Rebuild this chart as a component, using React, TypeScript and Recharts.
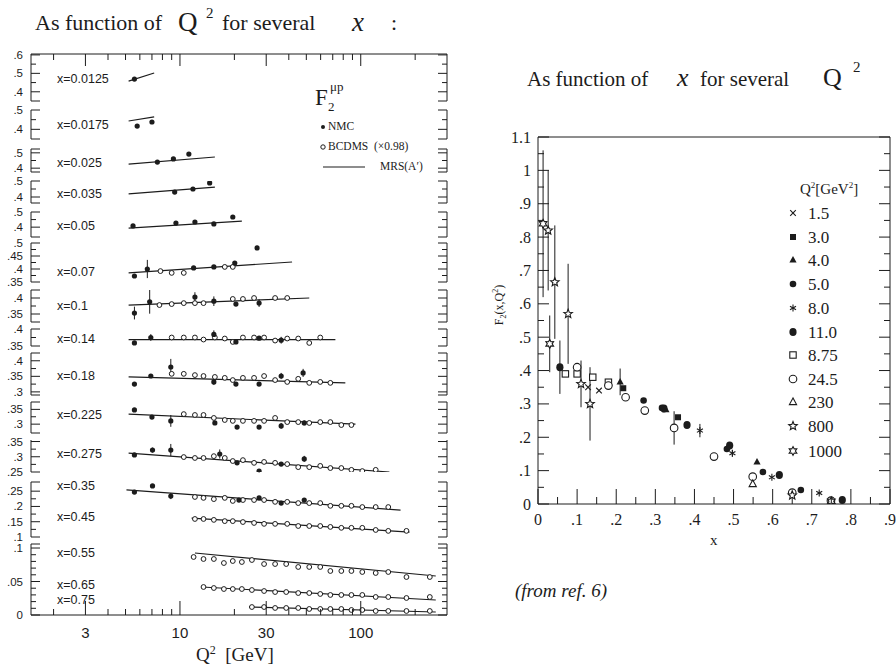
import React from "react";
import { ErrorBar, Scatter, ScatterChart, XAxis, YAxis } from "recharts";

const INK = "#1c1c1c";
const SANS = "'Liberation Sans', Arial, sans-serif";
const SERIF = "'Liberation Serif', 'Times New Roman', serif";

type Pt = number[];

// ---------------- left panel: F2(mu p) against Q2, one strip per x bin ----------------
const Q2_DOMAIN = [1.5, 300];
const Q2_TICKS = [2, 3, 4, 5, 6, 7, 8, 9, 10, 20, 30, 40, 50, 60, 70, 80, 90, 100, 200];
const Q2_LABELS = [3, 10, 30, 100];

// NMC: [Q2, F2, error], BCDMS: [Q2, F2], MRS(A'): two end points
const nmc0125: Pt[] = [[5.6, 0.469, 0.008]];
const mrs0125: Pt[] = [[5.2, 0.458], [7.2, 0.502]];

const nmc0175: Pt[] = [[5.8, 0.417], [7.0, 0.438]];
const mrs0175: Pt[] = [[5.2, 0.443], [7.2, 0.464]];

const nmc025: Pt[] = [[7.5, 0.44], [9.2, 0.46], [11.2, 0.492]];
const mrs025: Pt[] = [[5.2, 0.427], [15.6, 0.473]];

const nmc035: Pt[] = [[9.35, 0.431], [11.8, 0.45], [14.6, 0.488]];
const mrs035: Pt[] = [[5.2, 0.419], [15.6, 0.462]];

const nmc05: Pt[] = [[5.5, 0.408, 0.01], [9.5, 0.427], [12.1, 0.434], [15.4, 0.421], [19.6, 0.467]];
const mrs05: Pt[] = [[5.2, 0.394], [22.0, 0.44]];

const nmc07: Pt[] = [[5.6, 0.373, 0.006], [6.6, 0.4, 0.035], [11.9, 0.404], [15.4, 0.408], [20.1, 0.423, 0.006], [26.7, 0.481, 0.008]];
const bcd07: Pt[] = [[7.8, 0.392], [9.0, 0.385], [10.5, 0.385], [17.7, 0.408], [19.6, 0.408]];
const mrs07: Pt[] = [[5.2, 0.385], [41.7, 0.427]];

const nmc1: Pt[] = [[5.6, 0.353, 0.02], [6.8, 0.388, 0.037], [12.1, 0.403, 0.015], [15.4, 0.39, 0.015], [20.4, 0.381, 0.006], [27.4, 0.384, 0.012]];
const bcd1: Pt[] = [[7.7, 0.378], [9.0, 0.381], [10.5, 0.384], [12.1, 0.384], [13.5, 0.384], [19.6, 0.397], [22.3, 0.397], [25.7, 0.4], [33.6, 0.4], [39.2, 0.4]];
const mrs1: Pt[] = [[5.2, 0.378], [51.9, 0.4]];

const nmc14: Pt[] = [[5.6, 0.359, 0.005], [6.9, 0.375, 0.01], [15.4, 0.384, 0.012], [20.4, 0.362], [27.4, 0.373], [36.3, 0.367, 0.01]];
const bcd14: Pt[] = [[9.0, 0.375], [10.5, 0.375], [12.1, 0.375], [13.5, 0.369], [15.6, 0.375], [17.7, 0.372], [19.6, 0.362], [22.3, 0.375], [25.7, 0.375], [29.2, 0.375], [33.6, 0.366], [39.2, 0.372], [45.1, 0.372], [51.9, 0.359], [59.7, 0.375]];
const mrs14: Pt[] = [[5.2, 0.369], [72.4, 0.369]];

const nmc18: Pt[] = [[5.6, 0.325, 0.006], [6.9, 0.351, 0.006], [8.9, 0.38, 0.026], [15.4, 0.332, 0.01], [20.4, 0.325, 0.005], [27.4, 0.325, 0.005], [36.3, 0.351, 0.01], [48.0, 0.361, 0.013]];
const bcd18: Pt[] = [[9.0, 0.358], [10.5, 0.358], [12.1, 0.354], [13.5, 0.351], [15.6, 0.348], [17.7, 0.345], [19.6, 0.338], [22.3, 0.345], [25.7, 0.345], [29.2, 0.351], [33.6, 0.338], [39.2, 0.332], [45.1, 0.342], [51.9, 0.329], [59.7, 0.332], [67.9, 0.329]];
const mrs18: Pt[] = [[5.2, 0.348], [82.2, 0.329]];

const nmc225: Pt[] = [[5.6, 0.348, 0.006], [7.0, 0.324, 0.006], [8.9, 0.311, 0.02], [15.6, 0.304, 0.006], [20.7, 0.29, 0.005], [27.4, 0.29, 0.005], [36.3, 0.294, 0.01], [48.7, 0.304, 0.008]];
const bcd225: Pt[] = [[10.5, 0.334], [12.1, 0.331], [13.5, 0.331], [15.4, 0.321], [17.7, 0.314], [19.6, 0.311], [22.3, 0.311], [25.7, 0.311], [29.2, 0.311], [33.6, 0.321], [39.2, 0.307], [45.1, 0.307], [51.9, 0.304], [59.7, 0.307], [67.9, 0.307], [78.1, 0.297], [88.8, 0.297]];
const mrs225: Pt[] = [[5.2, 0.334], [93.5, 0.3]];

const nmc275: Pt[] = [[5.6, 0.306, 0.006], [7.05, 0.322, 0.008], [8.9, 0.322, 0.02], [16.6, 0.309, 0.015], [20.7, 0.28, 0.005], [27.4, 0.253, 0.005], [36.3, 0.276, 0.005], [48.7, 0.293, 0.01]];
const bcd275: Pt[] = [[10.5, 0.299], [12.1, 0.296], [13.5, 0.296], [15.4, 0.302], [17.7, 0.296], [19.6, 0.286], [22.3, 0.289], [25.7, 0.28], [29.2, 0.283], [33.6, 0.28], [39.2, 0.276], [45.1, 0.266], [51.9, 0.266], [59.7, 0.27], [67.9, 0.263], [78.1, 0.263], [88.8, 0.257], [102, 0.253], [121, 0.257]];
const mrs275: Pt[] = [[5.2, 0.312], [144, 0.25]];

const nmc35: Pt[] = [[5.6, 0.247, 0.004], [7.05, 0.267, 0.004], [8.9, 0.234, 0.01], [21.2, 0.221, 0.004], [27.4, 0.228, 0.004], [36.3, 0.211, 0.004], [48.7, 0.221, 0.005]];
const bcd35: Pt[] = [[12.1, 0.231], [13.5, 0.228], [15.4, 0.224], [17.7, 0.228], [19.6, 0.218], [22.3, 0.221], [25.7, 0.221], [29.2, 0.221], [33.6, 0.215], [39.2, 0.215], [45.1, 0.211], [51.9, 0.211], [59.7, 0.211], [67.9, 0.202], [78.1, 0.202], [88.8, 0.202], [102, 0.198], [121, 0.198], [142, 0.198]];
const mrs35: Pt[] = [[5.06, 0.254], [166, 0.188]];

const bcd45: Pt[] = [[12.1, 0.159], [13.5, 0.159], [15.4, 0.156], [17.7, 0.152], [19.6, 0.152], [22.3, 0.149], [25.7, 0.146], [29.2, 0.143], [33.6, 0.143], [39.2, 0.143], [45.1, 0.136], [51.9, 0.136], [59.7, 0.136], [67.9, 0.133], [78.1, 0.13], [88.8, 0.13], [102, 0.13], [121, 0.123], [142, 0.12], [179, 0.12]];
const mrs45: Pt[] = [[11.6, 0.162], [186, 0.116]];

const bcd55: Pt[] = [[11.9, 0.0866], [13.5, 0.0836], [15.4, 0.0836], [17.5, 0.0776], [19.6, 0.0806], [22.0, 0.0791], [25.0, 0.0821], [29.2, 0.0761], [33.6, 0.0761], [38.7, 0.0761], [45.1, 0.0717], [51.9, 0.0717], [59.7, 0.0717], [67.9, 0.0657], [78.1, 0.0657], [88.8, 0.0657], [102, 0.0642], [121, 0.0627], [142, 0.0642], [179, 0.0567], [241, 0.0567]];
const mrs55: Pt[] = [[12.1, 0.0926], [260, 0.0582]];

const bcd65: Pt[] = [[13.5, 0.0418], [15.4, 0.0403], [17.5, 0.0388], [19.6, 0.0388], [22.0, 0.0388], [25.0, 0.0373], [29.2, 0.0358], [33.6, 0.0343], [38.7, 0.0343], [45.1, 0.0328], [51.9, 0.0328], [59.7, 0.0314], [67.9, 0.0299], [78.1, 0.0299], [88.8, 0.0299], [102, 0.0299], [121, 0.0269], [142, 0.0269], [179, 0.0254], [241, 0.0269]];
const mrs65: Pt[] = [[13.2, 0.0418], [260, 0.0224]];

const bcd75: Pt[] = [[25.0, 0.0119], [29.2, 0.0119], [33.6, 0.0105], [38.7, 0.0105], [45.1, 0.0105], [51.9, 0.009], [59.7, 0.009], [67.9, 0.009], [78.1, 0.009], [88.8, 0.0075], [102, 0.0075], [121, 0.006], [142, 0.006], [179, 0.006], [241, 0.006]];
const mrs75: Pt[] = [[24.1, 0.012], [260, 0.0045]];

// vertical strips (sub-axes) of the left frame: page px of the bracket, F2 range, ticks
const SEGMENTS = [
  { top: 54, bottom: 101, domain: [0.35, 0.605], ticks: [0.35, 0.4, 0.45, 0.5, 0.55, 0.6], labels: [0.4, 0.5, 0.6] },
  { top: 110, bottom: 139, domain: [0.35, 0.5], ticks: [0.35, 0.4, 0.45, 0.5], labels: [0.4, 0.5] },
  { top: 149, bottom: 172, domain: [0.375, 0.525], ticks: [0.375, 0.4, 0.45, 0.5, 0.525], labels: [0.4, 0.5] },
  { top: 181, bottom: 203, domain: [0.3625, 0.5], ticks: [0.3625, 0.4, 0.45, 0.5], labels: [0.4, 0.5] },
  { top: 212, bottom: 237, domain: [0.335, 0.5], ticks: [0.335, 0.4, 0.45, 0.5], labels: [0.4, 0.5] },
  { top: 243, bottom: 282, domain: [0.35, 0.5], ticks: [0.35, 0.375, 0.4, 0.425, 0.45, 0.475, 0.5], labels: [0.35, 0.4, 0.45, 0.5] },
  { top: 290, bottom: 322, domain: [0.325, 0.425], ticks: [0.325, 0.35, 0.375, 0.4, 0.425], labels: [0.35, 0.4] },
  { top: 329, bottom: 346, domain: [0.35, 0.4], ticks: [0.35, 0.375, 0.4], labels: [0.35, 0.4] },
  { top: 353, bottom: 395, domain: [0.29, 0.425], ticks: [0.29, 0.3, 0.325, 0.35, 0.375, 0.4, 0.425], labels: [0.3, 0.35, 0.4] },
  { top: 402, bottom: 433, domain: [0.27, 0.375], ticks: [0.27, 0.3, 0.325, 0.35, 0.375], labels: [0.3, 0.35] },
  { top: 440, bottom: 472, domain: [0.25, 0.355], ticks: [0.25, 0.275, 0.3, 0.325, 0.35], labels: [0.25, 0.3, 0.35] },
  { top: 482, bottom: 537, domain: [0.1, 0.28], ticks: [0.1, 0.125, 0.15, 0.175, 0.2, 0.225, 0.25, 0.28], labels: [0.1, 0.15, 0.2, 0.25] },
  { top: 544, bottom: 615, domain: [0, 0.106], ticks: [0, 0.01, 0.02, 0.03, 0.04, 0.05, 0.06, 0.07, 0.08, 0.09, 0.1, 0.106], labels: [0, 0.05, 0.1] },
];

const BINS = [
  { name: "x=0.0125", seg: 0, ly: 79, nmc: nmc0125, bcd: [], mrs: mrs0125 },
  { name: "x=0.0175", seg: 1, ly: 125, nmc: nmc0175, bcd: [], mrs: mrs0175 },
  { name: "x=0.025", seg: 2, ly: 163, nmc: nmc025, bcd: [], mrs: mrs025 },
  { name: "x=0.035", seg: 3, ly: 194, nmc: nmc035, bcd: [], mrs: mrs035 },
  { name: "x=0.05", seg: 4, ly: 226, nmc: nmc05, bcd: [], mrs: mrs05 },
  { name: "x=0.07", seg: 5, ly: 272, nmc: nmc07, bcd: bcd07, mrs: mrs07 },
  { name: "x=0.1", seg: 6, ly: 306, nmc: nmc1, bcd: bcd1, mrs: mrs1 },
  { name: "x=0.14", seg: 7, ly: 339, nmc: nmc14, bcd: bcd14, mrs: mrs14 },
  { name: "x=0.18", seg: 8, ly: 376, nmc: nmc18, bcd: bcd18, mrs: mrs18 },
  { name: "x=0.225", seg: 9, ly: 415, nmc: nmc225, bcd: bcd225, mrs: mrs225 },
  { name: "x=0.275", seg: 10, ly: 454, nmc: nmc275, bcd: bcd275, mrs: mrs275 },
  { name: "x=0.35", seg: 11, ly: 486, nmc: nmc35, bcd: bcd35, mrs: mrs35 },
  { name: "x=0.45", seg: 11, ly: 517, nmc: [], bcd: bcd45, mrs: mrs45 },
  { name: "x=0.55", seg: 12, ly: 553, nmc: [], bcd: bcd55, mrs: mrs55 },
  { name: "x=0.65", seg: 12, ly: 585, nmc: [], bcd: bcd65, mrs: mrs65 },
  { name: "x=0.75", seg: 12, ly: 600, nmc: [], bcd: bcd75, mrs: mrs75 },
];

// ---------------- right panel: F2 against x for several Q2 ----------------
const X_TICKS = Array.from({ length: 19 }, (_, i) => +(i * 0.05).toFixed(2));
const F_TICKS = Array.from({ length: 23 }, (_, i) => +(i * 0.05).toFixed(2));

// [x, F2, error]
const q1_5: Pt[] = [[0.128, 0.35], [0.156, 0.34]];
const q3_0: Pt[] = [[0.218, 0.347], [0.358, 0.26]];
const q4_0: Pt[] = [[0.21, 0.366, 0.04], [0.327, 0.283], [0.56, 0.126]];
const q5_0: Pt[] = [[0.27, 0.31], [0.317, 0.288], [0.483, 0.165], [0.575, 0.096], [0.672, 0.042]];
const q8_0: Pt[] = [[0.414, 0.22, 0.02], [0.497, 0.152, 0.01], [0.598, 0.08], [0.719, 0.033]];
const q11_0: Pt[] = [[0.056, 0.41, 0.08], [0.322, 0.286], [0.381, 0.237], [0.49, 0.175], [0.617, 0.087], [0.778, 0.012]];
const q8_75: Pt[] = [[0.07, 0.39], [0.1, 0.39], [0.14, 0.38], [0.18, 0.365]];
const q24_5: Pt[] = [[0.1, 0.41], [0.18, 0.355], [0.224, 0.32], [0.273, 0.28], [0.348, 0.228, 0.05], [0.45, 0.142], [0.549, 0.082], [0.65, 0.034], [0.749, 0.01]];
const q230: Pt[] = [[0.549, 0.06], [0.75, 0.006]];
const q800: Pt[] = [[0.026, 0.82, 0.18], [0.043, 0.665, 0.17], [0.077, 0.57, 0.15], [0.11, 0.36, 0.07], [0.133, 0.3, 0.11], [0.65, 0.026]];
const q1000: Pt[] = [[0.013, 0.84, 0.22], [0.03, 0.48, 0.085], [0.75, 0.008]];

const Q2_SERIES = [
  { label: "1.5", kind: "x", data: q1_5 },
  { label: "3.0", kind: "sq", data: q3_0 },
  { label: "4.0", kind: "tri", data: q4_0 },
  { label: "5.0", kind: "dot", data: q5_0 },
  { label: "8.0", kind: "ast", data: q8_0 },
  { label: "11.0", kind: "dotL", data: q11_0 },
  { label: "8.75", kind: "osq", data: q8_75 },
  { label: "24.5", kind: "ocirc", data: q24_5 },
  { label: "230", kind: "otri", data: q230 },
  { label: "800", kind: "star", data: q800 },
  { label: "1000", kind: "hex", data: q1000 },
];

// ---------------- helpers ----------------
const toQ = (a: Pt[]) => a.map(([q, f, e]) => ({ q, f, e: e ?? 0 }));
const toX = (a: Pt[]) => a.map(([x, f, e]) => ({ x, f, e: e ?? 0 }));
const dec = (v: number) => (v === 0 ? "0" : String(+v.toFixed(3)).replace(/^0\./, "."));
const near = (v: number, list: number[]) => list.some((t) => Math.abs(t - v) < 1e-9);

type Side = "left" | "right" | "top" | "bottom";
interface TickOpts {
  side: Side;
  long: number;
  short: number;
  isLong: (v: number) => boolean;
  label?: (v: number) => string | null;
  font?: string;
  size?: number;
  gap?: number;
}

const makeTick = (o: TickOpts) => (props: any) => {
  const { x, y, payload } = props;
  const v = payload.value as number;
  const len = o.isLong(v) ? o.long : o.short;
  const txt = o.label ? o.label(v) : null;
  const g = o.gap ?? 6;
  let l = [x, y, x, y];
  let tx = x;
  let ty = y;
  let anchor: "start" | "middle" | "end" = "middle";
  if (o.side === "left") { l = [x, y, x + len, y]; tx = x - g; anchor = "end"; }
  else if (o.side === "right") { l = [x, y, x - len, y]; tx = x + g; anchor = "start"; }
  else if (o.side === "top") { l = [x, y, x, y + len]; ty = y - g; }
  else { l = [x, y, x, y - len]; ty = y + g; }
  return (
    <g>
      <line x1={l[0]} y1={l[1]} x2={l[2]} y2={l[3]} stroke={INK} strokeWidth={1} />
      {txt != null && (
        <text x={tx} y={ty} textAnchor={anchor} dominantBaseline="central" fontFamily={o.font} fontSize={o.size} fill={INK}>
          {txt}
        </text>
      )}
    </g>
  );
};

const Marker = ({ kind, cx, cy }: { kind: string; cx: number; cy: number }) => {
  const s = { stroke: INK, strokeWidth: 1.1 };
  switch (kind) {
    case "x":
      return <g {...s}><line x1={cx - 2.8} y1={cy - 2.8} x2={cx + 2.8} y2={cy + 2.8} /><line x1={cx - 2.8} y1={cy + 2.8} x2={cx + 2.8} y2={cy - 2.8} /></g>;
    case "sq":
      return <rect x={cx - 3} y={cy - 3} width={6} height={6} fill={INK} />;
    case "tri":
      return <polygon points={`${cx},${cy - 4} ${cx - 3.6},${cy + 2.6} ${cx + 3.6},${cy + 2.6}`} fill={INK} />;
    case "dot":
      return <circle cx={cx} cy={cy} r={3.3} fill={INK} />;
    case "dotL":
      return <ellipse cx={cx} cy={cy} rx={3.6} ry={4} fill={INK} />;
    case "ast":
      return <g {...s}><line x1={cx} y1={cy - 3.5} x2={cx} y2={cy + 3.5} /><line x1={cx - 3} y1={cy - 1.8} x2={cx + 3} y2={cy + 1.8} /><line x1={cx - 3} y1={cy + 1.8} x2={cx + 3} y2={cy - 1.8} /></g>;
    case "osq":
      return <rect x={cx - 3.2} y={cy - 3.2} width={6.4} height={6.4} fill="#fff" {...s} />;
    case "ocirc":
      return <circle cx={cx} cy={cy} r={3.8} fill="#fff" {...s} />;
    case "otri":
      return <polygon points={`${cx},${cy - 4} ${cx - 3.6},${cy + 2.6} ${cx + 3.6},${cy + 2.6}`} fill="#fff" {...s} />;
    case "star": {
      const p = Array.from({ length: 10 }, (_, i) => {
        const r = i % 2 === 0 ? 4.5 : 2;
        const a = -Math.PI / 2 + (i * Math.PI) / 5;
        return `${cx + r * Math.cos(a)},${cy + r * Math.sin(a)}`;
      }).join(" ");
      return <polygon points={p} fill="#fff" {...s} />;
    }
    case "hex": {
      const p = Array.from({ length: 12 }, (_, i) => {
        const r = i % 2 === 0 ? 4.4 : 2.4;
        const a = -Math.PI / 2 + (i * Math.PI) / 6;
        return `${cx + r * Math.cos(a)},${cy + r * Math.sin(a)}`;
      }).join(" ");
      return <polygon points={p} fill="#fff" {...s} />;
    }
    default:
      return <circle cx={cx} cy={cy} r={2.5} fill={INK} />;
  }
};

const nmcDot = (p: any) => <circle cx={p.cx} cy={p.cy} r={2.6} fill={INK} />;
const bcdRing = (p: any) => <circle cx={p.cx} cy={p.cy} r={2.4} fill="#fff" stroke={INK} strokeWidth={1} />;
const noMark = () => <g />;

const PLOT_W = 457; // left strip charts: plot from x=31 to x=447
const PAD = 9;
const BOTTOM_AXIS_H = 45;

const q2Long = (v: number) => near(v, Q2_LABELS);
const topQ2Tick = makeTick({ side: "top", long: 12, short: 6, isLong: q2Long });
const bottomQ2Tick = makeTick({ side: "bottom", long: 14, short: 6, isLong: q2Long, label: (v) => (q2Long(v) ? String(v) : null), font: SANS, size: 15, gap: 17 });

const Strip = ({ index }: { index: number }) => {
  const seg = SEGMENTS[index];
  const bins = BINS.filter((b) => b.seg === index);
  const first = index === 0;
  const last = index === SEGMENTS.length - 1;
  const h = seg.bottom - seg.top;
  const isLong = (v: number) => near(v, seg.labels) || v === seg.domain[0] || v === seg.domain[1];
  return (
    <div style={{ position: "absolute", left: 0, top: seg.top - PAD }}>
      <ScatterChart
        width={PLOT_W}
        height={h + PAD + (last ? BOTTOM_AXIS_H : PAD)}
        margin={{ top: first ? 0 : PAD, bottom: last ? 0 : PAD, left: 0, right: 0 }}
      >
        <XAxis
          type="number"
          dataKey="q"
          scale="log"
          domain={Q2_DOMAIN}
          allowDataOverflow
          hide={!first && !last}
          orientation={first ? "top" : "bottom"}
          height={first ? PAD : last ? BOTTOM_AXIS_H : 0}
          ticks={Q2_TICKS}
          interval={0}
          tickSize={0}
          tickMargin={0}
          tickLine={false}
          axisLine={{ stroke: INK }}
          tick={first ? topQ2Tick : bottomQ2Tick}
        />
        <YAxis
          type="number"
          dataKey="f"
          domain={seg.domain}
          allowDataOverflow
          ticks={seg.ticks}
          interval={0}
          width={31}
          tickSize={0}
          tickMargin={0}
          tickLine={false}
          axisLine={{ stroke: INK }}
          tick={makeTick({ side: "left", long: 9, short: 5, isLong, label: (v) => (near(v, seg.labels) ? dec(v) : null), font: SANS, size: 11.5, gap: 8 })}
        />
        <YAxis
          yAxisId="r"
          orientation="right"
          type="number"
          domain={seg.domain}
          allowDataOverflow
          ticks={seg.ticks}
          interval={0}
          width={10}
          tickSize={0}
          tickMargin={0}
          tickLine={false}
          axisLine={{ stroke: INK }}
          tick={makeTick({ side: "right", long: 9, short: 5, isLong })}
        />
        {bins.flatMap((b) => [
          <Scatter key={b.name + "m"} data={toQ(b.mrs)} line={{ stroke: INK, strokeWidth: 1.2 }} shape={noMark} isAnimationActive={false} />,
          <Scatter key={b.name + "b"} data={toQ(b.bcd)} shape={bcdRing} isAnimationActive={false} />,
          <Scatter key={b.name + "n"} data={toQ(b.nmc)} shape={nmcDot} isAnimationActive={false}>
            <ErrorBar dataKey="e" direction="y" width={0} stroke={INK} strokeWidth={1} />
          </Scatter>,
        ])}
      </ScatterChart>
    </div>
  );
};

const RightPanel = () => {
  const major = (v: number) => Math.abs(v * 10 - Math.round(v * 10)) < 1e-6;
  const lab = (v: number) => (major(v) ? (v >= 1 ? String(+v.toFixed(1)) : dec(+v.toFixed(1))) : null);
  return (
    <div style={{ position: "absolute", left: 480, top: 127 }}>
      <ScatterChart width={416} height={430} margin={{ top: 0, bottom: 0, left: 0, right: 0 }}>
        <XAxis
          type="number"
          dataKey="x"
          domain={[0, 0.9]}
          allowDataOverflow
          ticks={X_TICKS}
          interval={0}
          height={53}
          tickSize={0}
          tickMargin={0}
          tickLine={false}
          axisLine={{ stroke: INK }}
          tick={makeTick({ side: "bottom", long: 15, short: 7, isLong: major, label: lab, font: SERIF, size: 16, gap: 15 })}
        />
        <XAxis
          xAxisId="t"
          orientation="top"
          type="number"
          domain={[0, 0.9]}
          allowDataOverflow
          ticks={X_TICKS}
          interval={0}
          height={10}
          tickSize={0}
          tickMargin={0}
          tickLine={false}
          axisLine={{ stroke: INK }}
          tick={makeTick({ side: "top", long: 15, short: 8, isLong: major })}
        />
        <YAxis
          type="number"
          dataKey="f"
          domain={[0, 1.1]}
          allowDataOverflow
          ticks={F_TICKS}
          interval={0}
          width={58}
          tickSize={0}
          tickMargin={0}
          tickLine={false}
          axisLine={{ stroke: INK }}
          tick={makeTick({ side: "left", long: 11, short: 6, isLong: major, label: lab, font: SERIF, size: 16, gap: 7 })}
        />
        <YAxis
          yAxisId="r"
          orientation="right"
          type="number"
          domain={[0, 1.1]}
          allowDataOverflow
          ticks={F_TICKS}
          interval={0}
          width={6}
          tickSize={0}
          tickMargin={0}
          tickLine={false}
          axisLine={{ stroke: INK }}
          tick={makeTick({ side: "right", long: 11, short: 6, isLong: major })}
        />
        {Q2_SERIES.map((s) => (
          <Scatter key={s.label} data={toX(s.data)} shape={(p: any) => <Marker kind={s.kind} cx={p.cx} cy={p.cy} />} isAnimationActive={false}>
            <ErrorBar dataKey="e" direction="y" width={0} stroke={INK} strokeWidth={1} />
          </Scatter>
        ))}
      </ScatterChart>
    </div>
  );
};

const abs = (left: number, top: number, extra: React.CSSProperties = {}): React.CSSProperties => ({
  position: "absolute",
  left,
  top,
  whiteSpace: "nowrap",
  lineHeight: 1,
  color: INK,
  ...extra,
});

export default function App() {
  return (
    <div style={{ position: "absolute", left: 0, top: 0, width: 896, height: 668, background: "#fff", overflow: "hidden", fontFamily: SERIF }}>
      {/* headers */}
      <div style={abs(35, 12, { fontSize: 22 })}>As function of</div>
      <div style={abs(178, 9, { fontSize: 27 })}>Q</div>
      <div style={abs(206, 6, { fontSize: 15 })}>2</div>
      <div style={abs(222, 12, { fontSize: 22 })}>for several</div>
      <div style={abs(352, 9, { fontSize: 27, fontStyle: "italic" })}>x</div>
      <div style={abs(391, 12, { fontSize: 22 })}>:</div>

      <div style={abs(527, 69, { fontSize: 21 })}>As function of</div>
      <div style={abs(677, 65, { fontSize: 26, fontStyle: "italic" })}>x</div>
      <div style={abs(700, 69, { fontSize: 21 })}>for several</div>
      <div style={abs(823, 65, { fontSize: 26 })}>Q</div>
      <div style={abs(853, 60, { fontSize: 15 })}>2</div>

      {SEGMENTS.map((_, i) => (
        <Strip key={i} index={i} />
      ))}

      {BINS.map((b) => (
        <div key={b.name} style={abs(57, b.ly - 6, { fontFamily: SANS, fontSize: 12.5, height: 12, lineHeight: "12px" })}>
          {b.name}
        </div>
      ))}

      {/* left legend */}
      <div style={abs(315, 86, { fontSize: 23 })}>F</div>
      <div style={abs(328, 100, { fontSize: 13 })}>2</div>
      <div style={abs(330, 80, { fontSize: 13 })}>μp</div>
      <svg style={{ position: "absolute", left: 315, top: 120 }} width={56} height={54}>
        <circle cx={8} cy={7} r={2} fill={INK} />
        <circle cx={8} cy={27} r={2.2} fill="#fff" stroke={INK} strokeWidth={1} />
        <line x1={8} y1={47} x2={50} y2={47} stroke={INK} strokeWidth={1.2} />
      </svg>
      <div style={abs(328, 121, { fontSize: 11.5 })}>NMC</div>
      <div style={abs(328, 141, { fontSize: 11.5 })}>BCDMS&nbsp;&nbsp;(×0.98)</div>
      <div style={abs(380, 161, { fontSize: 11.5 })}>MRS(A′)</div>

      <div style={abs(196, 644, { fontSize: 19 })}>
        Q<sup style={{ fontSize: 12 }}>2</sup>&nbsp;&nbsp;[GeV]
      </div>

      <RightPanel />

      {/* right legend */}
      <div style={abs(800, 181, { fontSize: 15 })}>
        Q<sup style={{ fontSize: 9 }}>2</sup>[GeV<sup style={{ fontSize: 9 }}>2</sup>]
      </div>
      {Q2_SERIES.map((s, i) => {
        const y = [213, 237, 260, 284, 308, 332, 355, 379, 402, 426, 451][i];
        return (
          <React.Fragment key={s.label}>
            <svg style={{ position: "absolute", left: 786, top: y - 7 }} width={14} height={14}>
              <Marker kind={s.kind} cx={7} cy={7} />
            </svg>
            <div style={abs(808, y - 8, { fontSize: 17 })}>{s.label}</div>
          </React.Fragment>
        );
      })}

      <div style={abs(710, 533, { fontSize: 15 })}>x</div>
      <div style={abs(500, 305, { fontSize: 12, transform: "translate(-50%, -50%) rotate(-90deg)" })}>
        F<sub style={{ fontSize: 8 }}>2</sub>(x,Q<sup style={{ fontSize: 8 }}>2</sup>)
      </div>

      <div style={abs(515, 581, { fontSize: 19, fontStyle: "italic" })}>(from ref. 6)</div>
    </div>
  );
}
